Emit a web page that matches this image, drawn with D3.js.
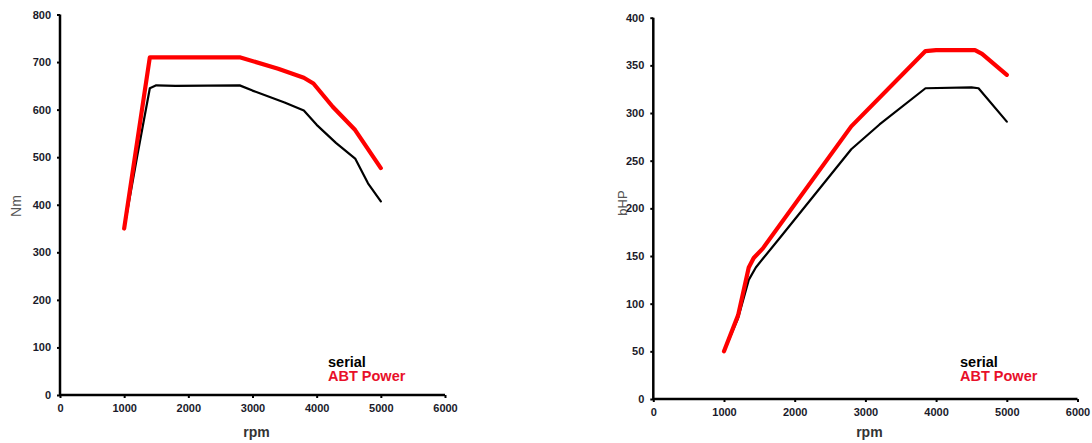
<!DOCTYPE html>
<html>
<head>
<meta charset="utf-8">
<script src="https://cdn.jsdelivr.net/npm/d3@7"></script>
<style>
  html, body { margin: 0; padding: 0; background: #fff; }
  svg { display: block; }
  text { font-family: "Liberation Sans", Arial, sans-serif; }
</style>
</head>
<body>
<svg id="chart" width="1092" height="443"></svg>
<script>
// ---- data ----
const rpmTicks = [0, 1000, 2000, 3000, 4000, 5000, 6000];
const torqueTicks = [0, 100, 200, 300, 400, 500, 600, 700, 800];
const powerTicks = [0, 50, 100, 150, 200, 250, 300, 350, 400];

const torqueSerialRpm = [1000, 1200, 1400, 1500, 1800, 2800, 3000, 3500, 3800, 4000, 4300, 4600, 4800, 5000];
const torqueSerialNm  = [350, 500, 645, 651, 650, 651, 640, 615, 598, 568, 530, 497, 445, 407];
const torqueAbtRpm = [1000, 1400, 2800, 3400, 3800, 3950, 4250, 4600, 5000];
const torqueAbtNm  = [350, 710, 710, 686, 667, 655, 606, 557, 477];

const powerSerialRpm = [1000, 1200, 1350, 1450, 1800, 2800, 3200, 3850, 4500, 4600, 5000];
const powerSerialHp  = [50, 85, 125, 138, 170, 262, 288, 326, 327, 326, 291];
const powerAbtRpm = [1000, 1200, 1350, 1420, 1550, 2800, 3850, 4000, 4550, 4650, 5000];
const powerAbtHp  = [50, 88, 138, 148, 158, 286, 365, 366, 366, 362, 340];

const legendLabels = ["serial", "ABT Power"];
const seriesColors = ["#000000", "#ff0000"];

const svg = d3.select("#chart");

function drawPanel(cfg) {
  const x = d3.scaleLinear().domain([0, 6000]).range([cfg.x0, cfg.x1]);
  const y = d3.scaleLinear().domain([0, cfg.yMax]).range([cfg.y0, cfg.y1]);
  const g = svg.append("g");

  const xAxis = g.append("g").attr("transform", `translate(0,${cfg.y0})`)
    .call(d3.axisBottom(x).tickValues(rpmTicks).tickSize(3).tickPadding(6).tickFormat(d3.format("d")));
  const yAxis = g.append("g").attr("transform", `translate(${cfg.x0},0)`)
    .call(d3.axisLeft(y).tickValues(cfg.yTicks).tickSize(3).tickPadding(6).tickFormat(d3.format("d")));
  [xAxis, yAxis].forEach(a => {
    a.select(".domain").attr("stroke", "#000").attr("stroke-width", 2.5);
    a.selectAll(".tick line").attr("stroke", "#000").attr("stroke-width", 2);
    a.selectAll(".tick text").attr("fill", "#1a1a2a").attr("font-size", 11)
      .attr("font-weight", "bold").attr("font-family", "'Liberation Sans', Arial, sans-serif");
  });
  xAxis.select(".domain").attr("d", `M${cfg.x0},0H${cfg.x1}`);
  yAxis.select(".domain").attr("d", `M0,${cfg.y0}V${cfg.y1}`);

  const line = d3.line().x(d => x(d[0])).y(d => y(d[1])).curve(d3.curveLinear);

  cfg.series.forEach((s, i) => {
    g.append("path")
      .datum(s.rpm.map((r, k) => [r, s.val[k]]))
      .attr("d", line)
      .attr("fill", "none")
      .attr("stroke", seriesColors[s.c])
      .attr("stroke-width", s.w)
      .attr("stroke-linejoin", "round")
      .attr("stroke-linecap", "round");
  });

  // axis titles
  g.append("text")
    .attr("transform", `translate(${cfg.yTitleX},${cfg.yTitleY}) rotate(-90)`)
    .attr("text-anchor", "middle")
    .attr("font-size", cfg.yTitleSize)
    .attr("fill", "#555")
    .text(cfg.yTitle);
  g.append("text")
    .attr("x", (x(0) + x(6000)) / 2 + 4)
    .attr("y", 437)
    .attr("text-anchor", "middle")
    .attr("font-size", 14)
    .attr("font-weight", "bold")
    .attr("fill", "#333")
    .text("rpm");

  // legend
  legendLabels.forEach((lab, i) => {
    g.append("text")
      .attr("x", cfg.legX)
      .attr("y", 367 + i * 14)
      .attr("font-size", 14.5)
      .attr("font-weight", "bold")
      .attr("fill", i === 0 ? "#000" : "#e8102a")
      .text(lab);
  });
}

drawPanel({
  x0: 60, x1: 445, y0: 395, y1: 14.5, yMax: 800, yTicks: torqueTicks,
  yTitle: "Nm", yTitleX: 21, yTitleY: 206, yTitleSize: 14,
  legX: 328,
  series: [
    { rpm: torqueSerialRpm, val: torqueSerialNm, c: 0, w: 2.2 },
    { rpm: torqueAbtRpm, val: torqueAbtNm, c: 1, w: 4.2 }
  ]
});

drawPanel({
  x0: 653.3, x1: 1077.5, y0: 399, y1: 17.7, yMax: 400, yTicks: powerTicks,
  yTitle: "bHP", yTitleX: 627, yTitleY: 203, yTitleSize: 13,
  legX: 960,
  series: [
    { rpm: powerSerialRpm, val: powerSerialHp, c: 0, w: 2.2 },
    { rpm: powerAbtRpm, val: powerAbtHp, c: 1, w: 4.2 }
  ]
});
</script>
</body>
</html>
